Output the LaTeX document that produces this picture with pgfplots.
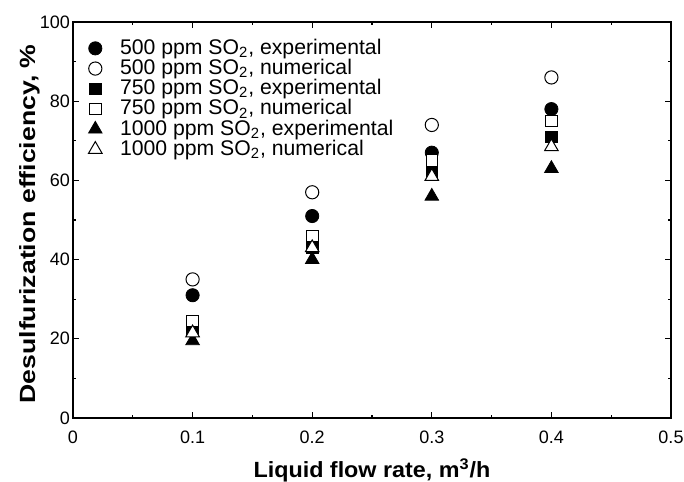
\documentclass[border=0pt]{standalone}
\usepackage{pgfplots}
\pgfplotsset{compat=1.18}
\usepackage{graphicx}
\usepackage{fontspec}
\setmainfont{Liberation Sans}
\begin{document}
\begin{tikzpicture}
\begin{axis}[
  scale only axis,
  width=299pt, height=198pt,
  xmin=0, xmax=0.5, ymin=0, ymax=100,
  xtick={0,0.1,0.2,0.3,0.4,0.5},
  xticklabels={0,0.1,0.2,0.3,0.4,0.5},
  ytick={0,20,40,60,80,100},
  minor x tick num=1, minor y tick num=1,
  tick align=inside,
  major tick length=2.8pt, minor tick length=1.5pt,
  axis line style={line width=1pt},
  every tick/.style={line width=0.6pt, black},
  /pgf/number format/assume math mode=true,
  tick label style={font=\fontsize{9}{10}\selectfont},
  xticklabel style={yshift=-3pt},
  yticklabel style={xshift=2pt},
  xlabel={\scalebox{1.06}[1]{\textbf{Liquid flow rate, m\textsuperscript{3}/h}}},
  ylabel={\scalebox{1.21}[1]{\textbf{Desulfurization efficiency, \%}}},
  label style={font=\fontsize{11}{12}\selectfont},
  xlabel style={at={(axis description cs:0.5,-0.149)}, anchor=base},
  ylabel style={at={(axis description cs:-0.0635,0.49)}, anchor=base},
  legend image code/.code={\draw[#1] plot coordinates {(0pt,0pt)};},
  legend style={draw=none, fill=none, at={(axis description cs:0.022,0.965)}, anchor=north west,
    font=\fontsize{10.6}{11}\selectfont, row sep=0pt, inner sep=1pt,
    nodes={text height=8pt, text depth=2.1pt, inner ysep=0pt, inner xsep=0.5pt},
    /tikz/every odd column/.style={column sep=8.5pt}},
  legend cell align=left,
  clip=false,
]
\addplot[only marks, mark=*, mark size=3.3pt, mark options={fill=black, draw=black}]
  coordinates {(0.1,31) (0.2,51) (0.3,67) (0.4,78)};
\addlegendentry{500 ppm SO\textsubscript{2}, experimental}
\addplot[only marks, mark=*, mark size=3.3pt, mark options={fill=white, draw=black, line width=0.5pt}]
  coordinates {(0.1,35) (0.2,57) (0.3,74) (0.4,86)};
\addlegendentry{500 ppm SO\textsubscript{2}, numerical}
\addplot[only marks, mark=square*, mark size=2.9pt, mark options={fill=black, draw=black}]
  coordinates {(0.1,22) (0.2,43) (0.3,62) (0.4,71)};
\addlegendentry{750 ppm SO\textsubscript{2}, experimental}
\addplot[only marks, mark=square*, mark size=2.9pt, mark options={fill=white, draw=black, line width=0.5pt}]
  coordinates {(0.1,24.5) (0.2,46) (0.3,65) (0.4,75)};
\addlegendentry{750 ppm SO\textsubscript{2}, numerical}
\addplot[only marks, mark=triangle*, mark size=3.9pt, mark options={fill=black, draw=black}]
  coordinates {(0.1,19.5) (0.2,40) (0.3,56) (0.4,63)};
\addlegendentry{1000 ppm SO\textsubscript{2}, experimental}
\addplot[only marks, mark=triangle*, mark size=3.9pt, mark options={fill=white, draw=black, line width=0.5pt}]
  coordinates {(0.1,21.5) (0.2,43) (0.3,61) (0.4,68.5)};
\addlegendentry{1000 ppm SO\textsubscript{2}, numerical}
\end{axis}
\pgfresetboundingbox
\path ([xshift=-36.5pt,yshift=-31.5pt]current axis.south west) rectangle ([xshift=6.5pt,yshift=11pt]current axis.north east);
\end{tikzpicture}
\end{document}
